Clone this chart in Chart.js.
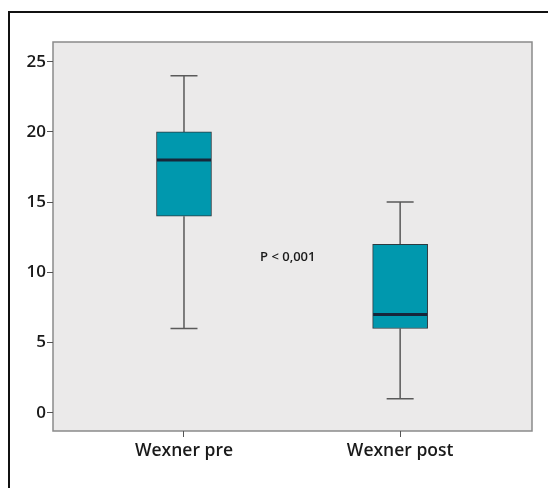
<!DOCTYPE html>
<html>
<head>
<meta charset="utf-8">
<script src="https://cdn.jsdelivr.net/npm/chart.js@4"></script>
<style>
  html, body { margin: 0; padding: 0; background: #fff; }
  #wrap { position: relative; width: 548px; height: 488px; overflow: hidden; }
  #frame { position: absolute; left: 8px; top: 11px; right: -5px; bottom: -5px; border-top: 2px solid #111; border-left: 2px solid #111; }
  canvas { position: absolute; left: 0; top: 0; }
</style>
</head>
<body>
<div id="wrap">
  <div id="frame"></div>
  <canvas id="grafico" width="548" height="488"></canvas>
</div>
<script>
// dados do boxplot
const categorias = ['Wexner pre', 'Wexner post'];
const minimos = [6, 1];
const quartil1 = [14, 6];
const medianas = [18, 7];
const quartil3 = [20, 12];
const maximos = [24, 15];
const ticksY = [0, 5, 10, 15, 20, 25];
const textoP = 'P < 0,001';

var ctx = document.getElementById('grafico').getContext('2d');

// fundo cinza e moldura da area do grafico
const fundoPlugin = {
    id: 'fundo',
    beforeDraw(chart) {
        const a = chart.chartArea;
        const c = chart.ctx;
        c.save();
        c.fillStyle = '#ebeaea';
        c.fillRect(a.left, a.top, a.right - a.left, a.bottom - a.top);
        c.strokeStyle = '#8a8a8a';
        c.lineWidth = 1.5;
        c.strokeRect(a.left, a.top, a.right - a.left, a.bottom - a.top);
        c.restore();
    }
};

// bigodes, medianas e texto do p
const boxPlugin = {
    id: 'bigodes',
    beforeDatasetsDraw(chart) {
        const x = chart.scales.x, y = chart.scales.y, c = chart.ctx;
        c.save();
        c.strokeStyle = '#5a5a5a';
        c.lineWidth = 1.5;
        for (let i = 0; i < categorias.length; i++) {
            const px = x.getPixelForValue(i + 1);
            c.beginPath();
            c.moveTo(px, y.getPixelForValue(maximos[i]));
            c.lineTo(px, y.getPixelForValue(quartil3[i]));
            c.moveTo(px, y.getPixelForValue(quartil1[i]));
            c.lineTo(px, y.getPixelForValue(minimos[i]));
            c.moveTo(px - 13.5, y.getPixelForValue(maximos[i]));
            c.lineTo(px + 13.5, y.getPixelForValue(maximos[i]));
            c.moveTo(px - 13.5, y.getPixelForValue(minimos[i]));
            c.lineTo(px + 13.5, y.getPixelForValue(minimos[i]));
            c.stroke();
        }
        c.restore();
    },
    afterDatasetsDraw(chart) {
        const x = chart.scales.x, y = chart.scales.y, c = chart.ctx;
        c.save();
        c.strokeStyle = '#17263a';
        c.lineWidth = 3;
        for (let i = 0; i < categorias.length; i++) {
            const px = x.getPixelForValue(i + 1);
            const py = y.getPixelForValue(medianas[i]);
            c.beginPath();
            c.moveTo(px - 27, py);
            c.lineTo(px + 27, py);
            c.stroke();
        }
        c.fillStyle = '#1a1a1a';
        c.font = '600 13px "Open Sans"';
        c.textAlign = 'center';
        c.textBaseline = 'middle';
        c.fillText(textoP, x.getPixelForValue(1.48), y.getPixelForValue(11.1));
        c.restore();
    }
};

var grafico = new Chart(ctx, {
    type: 'bar',
    data: {
        datasets: [{
            data: categorias.map(function(cat, i) { return { x: i + 1, y: [quartil1[i], quartil3[i]] }; }),
            backgroundColor: '#0098ae',
            borderColor: '#2d3a40',
            borderWidth: 1,
            borderSkipped: false,
            barThickness: 55
        }]
    },
    options: {
        responsive: false,
        animation: false,
        events: [],
        layout: {
            padding: { left: 0, top: 42, right: 16, bottom: 0 }
        },
        scales: {
            x: {
                type: 'linear',
                offset: false,
                min: 0.394,
                max: 2.61,
                afterBuildTicks: function(scale) {
                    scale.ticks = categorias.map(function(c, i) { return { value: i + 1 }; });
                },
                afterFit: function(scale) { scale.height = 57; },
                ticks: {
                    callback: function(v) { return categorias[v - 1]; },
                    color: '#1a1a1a',
                    font: { family: 'Open Sans', size: 17.5, weight: '600' },
                    maxRotation: 0,
                    padding: 4
                },
                grid: {
                    offset: false,
                    drawOnChartArea: false,
                    drawTicks: true,
                    tickLength: 6,
                    color: '#555'
                },
                border: { display: false }
            },
            y: {
                min: -1.3,
                max: 26.4,
                afterBuildTicks: function(scale) {
                    scale.ticks = ticksY.map(function(v) { return { value: v }; });
                },
                afterFit: function(scale) { scale.width = 53; },
                ticks: {
                    color: '#1a1a1a',
                    font: { family: 'Open Sans', size: 17, weight: '600' },
                    padding: 1
                },
                grid: {
                    drawOnChartArea: false,
                    drawTicks: true,
                    tickLength: 6,
                    color: '#555'
                },
                border: { display: false }
            }
        },
        plugins: {
            legend: { display: false },
            tooltip: { enabled: false }
        }
    },
    plugins: [fundoPlugin, boxPlugin]
});
</script>
</body>
</html>
